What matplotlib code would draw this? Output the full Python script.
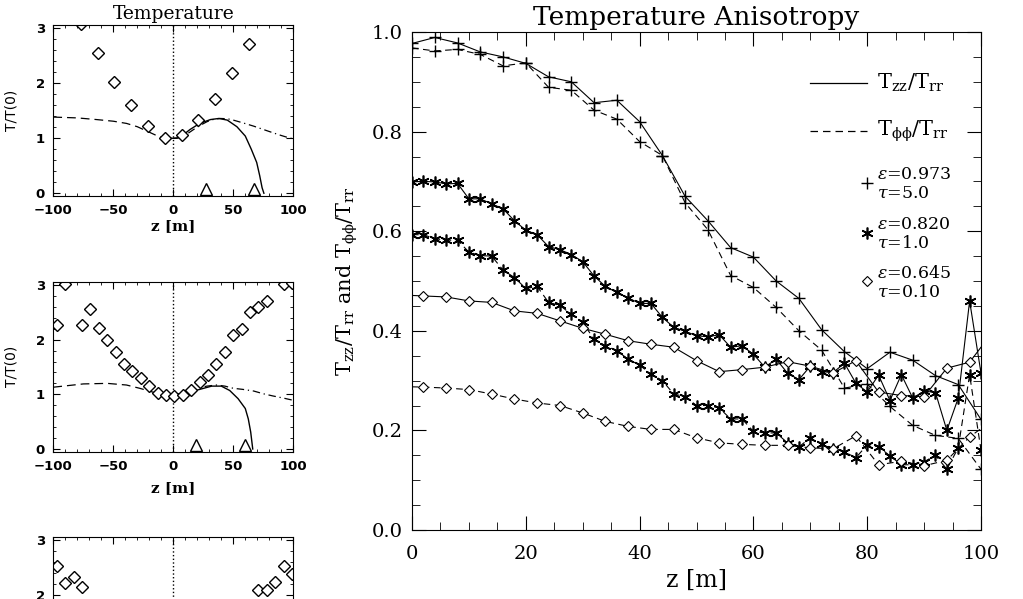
import matplotlib
matplotlib.use('Agg')
import matplotlib.pyplot as plt
from matplotlib.ticker import MultipleLocator

plt.rcParams['font.family'] = ['DejaVu Serif']
plt.rcParams['mathtext.fontset'] = 'dejavuserif'

# ---- main panel data: temperature anisotropy vs z ----
z_plus = list(range(0, 101, 4))
plus_zz = [0.977, 0.989, 0.978, 0.960, 0.950, 0.937, 0.910, 0.900, 0.858, 0.863,
           0.820, 0.752, 0.670, 0.621, 0.567, 0.548, 0.500, 0.465, 0.402, 0.358,
           0.324, 0.357, 0.341, 0.310, 0.292, 0.222]
plus_pp = [0.968, 0.962, 0.965, 0.955, 0.932, 0.938, 0.889, 0.883, 0.843, 0.825,
           0.780, 0.752, 0.657, 0.603, 0.511, 0.487, 0.447, 0.400, 0.361, 0.285,
           0.293, 0.248, 0.210, 0.190, 0.184, 0.122]

z_ast = list(range(0, 101, 2))
ast_zz = [0.699, 0.700, 0.699, 0.695, 0.696, 0.665, 0.665, 0.655, 0.645, 0.621,
          0.602, 0.593, 0.569, 0.563, 0.553, 0.539, 0.510, 0.489, 0.477, 0.466,
          0.455, 0.455, 0.427, 0.407, 0.399, 0.390, 0.388, 0.392, 0.367, 0.370,
          0.353, 0.327, 0.343, 0.315, 0.302, 0.329, 0.318, 0.316, 0.335, 0.295,
          0.277, 0.311, 0.260, 0.312, 0.265, 0.279, 0.276, 0.200, 0.265, 0.460,
          0.315]
ast_pp = [0.593, 0.593, 0.585, 0.582, 0.582, 0.558, 0.551, 0.550, 0.522, 0.507,
          0.485, 0.489, 0.457, 0.451, 0.433, 0.417, 0.383, 0.370, 0.360, 0.343,
          0.331, 0.313, 0.300, 0.273, 0.268, 0.250, 0.250, 0.245, 0.223, 0.223,
          0.198, 0.195, 0.195, 0.175, 0.167, 0.185, 0.173, 0.163, 0.157, 0.145,
          0.171, 0.167, 0.149, 0.131, 0.131, 0.137, 0.150, 0.122, 0.165, 0.312,
          0.160]

z_dia = list(range(-2, 103, 4))
dia_zz = [0.472, 0.470, 0.468, 0.460, 0.457, 0.440, 0.435, 0.420, 0.405, 0.393,
          0.380, 0.373, 0.367, 0.340, 0.318, 0.322, 0.327, 0.338, 0.329, 0.315,
          0.340, 0.277, 0.270, 0.268, 0.325, 0.337, 0.397]
dia_pp = [0.288, 0.287, 0.285, 0.282, 0.273, 0.263, 0.255, 0.250, 0.235, 0.218,
          0.208, 0.202, 0.202, 0.185, 0.175, 0.172, 0.170, 0.170, 0.165, 0.163,
          0.189, 0.131, 0.138, 0.129, 0.140, 0.187, 0.220]

# ---- small panels: T/T(0) vs z ----
p1_dia_z = [-77, -63, -49, -35, -21, -7, 7, 21, 35, 49, 63]
p1_dia_T = [3.08, 2.55, 2.02, 1.60, 1.22, 1.01, 1.06, 1.34, 1.72, 2.18, 2.71]
p1_tri_z = [27, 67]
p1_left_z = [-100, -80, -64, -50, -39, -30, -25, -20, -14, -8, -3, 0]
p1_left_T = [1.385, 1.37, 1.34, 1.31, 1.27, 1.21, 1.16, 1.11, 1.05, 1.01, 1.0, 1.0]
p1_right_z = [0, 5, 11, 17, 22, 28, 33, 39, 45, 50, 58, 67, 75, 83, 90, 96, 100]
p1_right_T = [1.0, 1.01, 1.07, 1.16, 1.23, 1.30, 1.34, 1.36, 1.355, 1.33, 1.28,
              1.22, 1.16, 1.10, 1.05, 1.01, 0.99]
p1_fit_z = [-3, 3, 7, 14, 22, 31, 38, 45, 53, 60, 65, 69.5, 72, 74, 75.5]
p1_fit_T = [1.0, 1.0, 1.04, 1.16, 1.27, 1.34, 1.36, 1.33, 1.21, 1.04, 0.80, 0.56,
            0.32, 0.10, 0.0]

p2_dia_z = [-97, -90, -76, -69, -62, -55, -48, -41, -34, -27, -20, -13, -6, 1, 8,
            15, 22, 29, 36, 43, 50, 57, 64, 71, 78, 92, 99]
p2_dia_T = [2.27, 3.02, 2.27, 2.56, 2.22, 1.99, 1.77, 1.55, 1.42, 1.29, 1.15, 1.03,
            0.98, 0.97, 0.98, 1.07, 1.22, 1.35, 1.55, 1.77, 2.09, 2.20, 2.50, 2.59,
            2.70, 3.01, 3.03]
p2_tri_z = [19, 60]
p2_left_z = [-100, -75, -55, -39, -28, -17, -8, 0]
p2_left_T = [1.13, 1.19, 1.20, 1.17, 1.11, 1.04, 1.0, 0.99]
p2_right_z = [0, 8, 15, 22, 28, 36, 43, 50, 58, 67, 75, 83, 92, 100]
p2_right_T = [0.99, 1.02, 1.07, 1.12, 1.15, 1.17, 1.15, 1.11, 1.09, 1.06, 1.01,
              0.97, 0.93, 0.89]
p2_fit_z = [0, 5, 12.5, 22, 32, 40, 47, 54, 60, 62.5, 64.5, 66.2]
p2_fit_T = [1.0, 1.0, 1.03, 1.09, 1.15, 1.15, 1.07, 0.92, 0.74, 0.55, 0.31, 0.0]

p3_dia_z = [-97, -90, -83, -76, 71, 78, 85, 92, 99]
p3_dia_T = [2.52, 2.22, 2.33, 2.14, 2.08, 2.08, 2.24, 2.52, 2.38]

fig = plt.figure(figsize=(10.23, 5.99), dpi=100)


def small_panel(rect, ylabel=True):
    ax = fig.add_axes(rect)
    ax.set_xlim(-100, 100)
    ax.set_ylim(-0.05, 3.06)
    ax.xaxis.set_major_locator(MultipleLocator(50))
    ax.xaxis.set_minor_locator(MultipleLocator(10))
    ax.yaxis.set_major_locator(MultipleLocator(1))
    ax.yaxis.set_minor_locator(MultipleLocator(0.2))
    ax.tick_params(which='both', direction='in', top=True, right=True,
                   labelsize=9.5, pad=6)
    ax.tick_params(which='major', length=5)
    ax.tick_params(which='minor', length=2.5)
    for lbl in ax.get_xticklabels() + ax.get_yticklabels():
        lbl.set_fontfamily('DejaVu Sans')
        lbl.set_fontweight('bold')
    ax.axvline(0, color='black', ls=':', lw=1)
    if ylabel:
        ax.set_ylabel('T/T(0)', family='DejaVu Sans', fontsize=10)
        ax.yaxis.set_label_coords(-0.145, 0.5)
    return ax


ax1 = small_panel([0.0521, 0.6728, 0.2346, 0.2855])
ax1.plot(p1_left_z, p1_left_T, color='black', lw=0.9, dashes=(7, 4))
ax1.plot(p1_right_z, p1_right_T, color='black', lw=0.9, dashes=(6, 3, 1, 3))
ax1.plot(p1_fit_z, p1_fit_T, color='black', lw=1)
ax1.plot(p1_dia_z, p1_dia_T, ls='none', marker='D', ms=6.5, mfc='white',
         mec='black', mew=1)
ax1.plot(p1_tri_z, [0.07] * len(p1_tri_z), ls='none', marker='^', ms=8,
         mfc='white', mec='black', mew=1, clip_on=False)
ax1.set_title('Temperature', fontsize=13.5, pad=4)
ax1.set_xlabel('z [m]', fontsize=11, fontweight='bold', labelpad=1)

ax2 = small_panel([0.0521, 0.2459, 0.2346, 0.2838])
ax2.plot(p2_left_z, p2_left_T, color='black', lw=0.9, dashes=(7, 4))
ax2.plot(p2_right_z, p2_right_T, color='black', lw=0.9, dashes=(6, 3, 1, 3))
ax2.plot(p2_fit_z, p2_fit_T, color='black', lw=1)
ax2.plot(p2_dia_z, p2_dia_T, ls='none', marker='D', ms=6.5, mfc='white',
         mec='black', mew=1)
ax2.plot(p2_tri_z, [0.07] * len(p2_tri_z), ls='none', marker='^', ms=8,
         mfc='white', mec='black', mew=1, clip_on=False)
ax2.set_xlabel('z [m]', fontsize=11, fontweight='bold', labelpad=6)

# third panel runs off the bottom of the page, as in the original
ax3 = small_panel([0.0521, -0.1803, 0.2346, 0.2843], ylabel=False)
ax3.tick_params(axis='x', labelbottom=False)
ax3.plot(p3_dia_z, p3_dia_T, ls='none', marker='D', ms=6.5, mfc='white',
         mec='black', mew=1)

# ---- main panel ----
ax = fig.add_axes([412 / 1023, 1 - 530 / 599, 569 / 1023, 498 / 599])
ax.set_xlim(0, 100)
ax.set_ylim(0, 1.0)
ax.xaxis.set_major_locator(MultipleLocator(20))
ax.xaxis.set_minor_locator(MultipleLocator(5))
ax.yaxis.set_major_locator(MultipleLocator(0.2))
ax.yaxis.set_minor_locator(MultipleLocator(0.05))
ax.yaxis.set_major_formatter(lambda v, p: f'{v:.1f}')
ax.tick_params(which='both', direction='in', top=True, right=True,
               labelsize=14)
ax.tick_params(axis='x', pad=11)
ax.tick_params(axis='y', pad=7)
ax.tick_params(which='major', length=10)
ax.tick_params(which='minor', length=6)

dash = (6, 4)
ax.plot(z_plus, plus_zz, color='black', lw=0.8, marker='+', ms=9, mew=1)
ax.plot(z_plus, plus_pp, color='black', lw=0.8, dashes=dash, marker='+', ms=9, mew=1)
ast = (6, 2, 0)
ax.plot(z_ast, ast_zz, color='black', lw=0.8, marker=ast, ms=8.5, mew=1.2)
ax.plot(z_ast, ast_pp, color='black', lw=0.8, dashes=dash, marker=ast, ms=8.5, mew=1.2)
ax.plot(z_dia, dia_zz, color='black', lw=0.8, marker='D', ms=5, mfc='white',
        mec='black', mew=0.8)
ax.plot(z_dia, dia_pp, color='black', lw=0.8, dashes=dash, marker='D', ms=5,
        mfc='white', mec='black', mew=0.8)

ax.set_title('Temperature Anisotropy', fontsize=19, pad=5)
ax.set_xlabel('z [m]', fontsize=17, labelpad=4)
ax.set_ylabel(r'$\mathrm{T_{zz}/T_{rr}}$ and $\mathrm{T_{\phi\phi}/T_{rr}}$',
              fontsize=15)
ax.yaxis.set_label_coords(-0.092, 0.5)

# legend drawn by hand, IDL style
tr = ax.transAxes
ax.plot([0.70, 0.80], [0.898, 0.898], color='black', lw=0.9, transform=tr)
ax.text(0.818, 0.898, r'$\mathrm{T_{zz}/T_{rr}}$', fontsize=15, va='center', transform=tr)
ax.plot([0.70, 0.80], [0.801, 0.801], color='black', lw=0.9, dashes=dash, transform=tr)
ax.text(0.818, 0.801, r'$\mathrm{T_{\phi\phi}/T_{rr}}$', fontsize=15, va='center', transform=tr)

legend_rows = [('+', 0.697, r'$\epsilon$=0.973', r'$\tau$=5.0'),
               (ast, 0.597, r'$\epsilon$=0.820', r'$\tau$=1.0'),
               ('D', 0.499, r'$\epsilon$=0.645', r'$\tau$=0.10')]
for mk, yy, eps_txt, tau_txt in legend_rows:
    if mk == 'D':
        ax.plot([0.80], [yy], marker='D', ms=5, mfc='white', mec='black',
                mew=0.8, transform=tr)
    else:
        ax.plot([0.80], [yy], marker=mk, ms=9 if mk == '+' else 8.5,
                mew=1 if mk == '+' else 1.2, color='black', transform=tr)
    ax.text(0.818, yy + 0.016, eps_txt, fontsize=12.5, va='center', transform=tr)
    ax.text(0.818, yy - 0.021, tau_txt, fontsize=12.5, va='center', transform=tr)

fig.savefig('out.png', dpi=100)
